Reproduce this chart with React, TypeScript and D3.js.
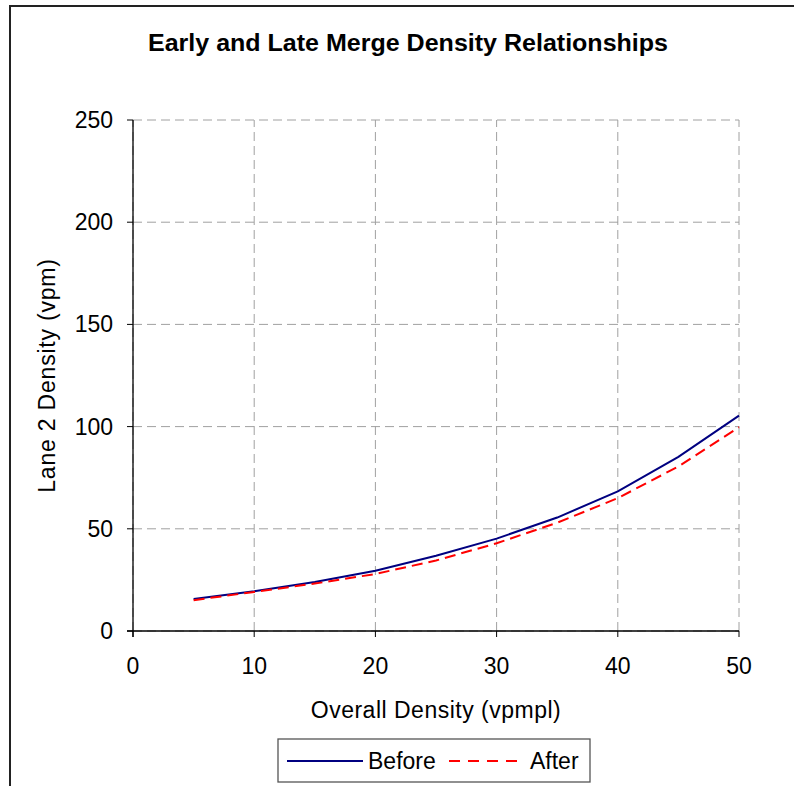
import React from "react";
import * as d3 from "d3";

const xValues = [5, 10, 15, 20, 25, 30, 35, 40, 45, 50];
const beforeValues = [15.7, 19.4, 24.0, 29.5, 36.8, 45.2, 55.5, 68.3, 85.2, 105.4];
const afterValues = [15.1, 19.1, 23.2, 27.9, 34.5, 42.9, 53.0, 65.0, 80.5, 99.7];
const xTicks = [0, 10, 20, 30, 40, 50];
const yTicks = [0, 50, 100, 150, 200, 250];
const seriesNames = ["Before", "After"];

const W = 794;
const H = 786;
const FONT = "Liberation Sans, Arial, sans-serif";

export default function App() {
  const x = d3.scaleLinear().domain([0, 50]).range([133, 739]);
  const y = d3.scaleLinear().domain([0, 250]).range([631, 120]);
  const line = d3
    .line<[number, number]>()
    .x((d) => x(d[0]))
    .y((d) => y(d[1]));
  const beforePts = xValues.map((v, i) => [v, beforeValues[i]] as [number, number]);
  const afterPts = xValues.map((v, i) => [v, afterValues[i]] as [number, number]);

  return (
    <svg
      width={W}
      height={H}
      style={{ position: "absolute", left: 0, top: 0, background: "#fff" }}
      fontFamily={FONT}
    >
      <rect x={0} y={0} width={W} height={H} fill="#fff" />
      {/* chart frame */}
      <path d={`M10,${H + 5} L10,6 L${W + 5},6`} fill="none" stroke="#222" strokeWidth={2} />

      <text
        x={408}
        y={51}
        textAnchor="middle"
        fontSize={23}
        fontWeight="bold"
        textLength={520}
        lengthAdjust="spacingAndGlyphs"
      >
        Early and Late Merge Density Relationships
      </text>

      {/* gridlines */}
      {yTicks.map((t) => (
        <line
          key={"gy" + t}
          x1={x(0)}
          x2={x(50)}
          y1={y(t)}
          y2={y(t)}
          stroke="#a0a0a0"
          strokeWidth={1}
          strokeDasharray="9,5"
        />
      ))}
      {xTicks.map((t) => (
        <line
          key={"gx" + t}
          x1={x(t)}
          x2={x(t)}
          y1={y(0)}
          y2={y(250)}
          stroke="#a0a0a0"
          strokeWidth={1}
          strokeDasharray="9,5"
        />
      ))}

      {/* axes */}
      <line x1={x(0)} x2={x(0)} y1={y(250)} y2={y(0) + 6} stroke="#000" strokeWidth={1.3} />
      <line x1={x(0) - 6} x2={x(50)} y1={y(0)} y2={y(0)} stroke="#000" strokeWidth={1.3} />
      {yTicks.map((t) => (
        <g key={"ty" + t}>
          <line x1={x(0) - 6} x2={x(0)} y1={y(t)} y2={y(t)} stroke="#000" strokeWidth={1} />
          <text x={113} y={y(t) + 8} textAnchor="end" fontSize={23}>
            {t}
          </text>
        </g>
      ))}
      {xTicks.map((t) => (
        <g key={"tx" + t}>
          <line x1={x(t)} x2={x(t)} y1={y(0)} y2={y(0) + 6} stroke="#000" strokeWidth={1} />
          <text x={x(t)} y={674} textAnchor="middle" fontSize={23}>
            {t}
          </text>
        </g>
      ))}

      <text x={436} y={718} textAnchor="middle" fontSize={23} letterSpacing={0.5}>
        Overall Density (vpmpl)
      </text>
      <text
        transform={`translate(55,375.5) rotate(-90)`}
        textAnchor="middle"
        fontSize={23}
        letterSpacing={0.8}
      >
        Lane 2 Density (vpm)
      </text>

      {/* series */}
      <path d={line(beforePts) || ""} fill="none" stroke="#000080" strokeWidth={2} />
      <path
        d={line(afterPts) || ""}
        fill="none"
        stroke="#ff0000"
        strokeWidth={2}
        strokeDasharray="11,6"
      />

      {/* legend */}
      <rect x={278} y={739} width={312} height={43} fill="#fff" stroke="#555" strokeWidth={1.3} />
      <line x1={287} x2={363} y1={761} y2={761} stroke="#000080" strokeWidth={2} />
      <text x={368} y={769} fontSize={23}>
        {seriesNames[0]}
      </text>
      <line
        x1={449}
        x2={525}
        y1={761}
        y2={761}
        stroke="#ff0000"
        strokeWidth={2}
        strokeDasharray="11,8"
      />
      <text x={530} y={769} fontSize={23}>
        {seriesNames[1]}
      </text>
    </svg>
  );
}
